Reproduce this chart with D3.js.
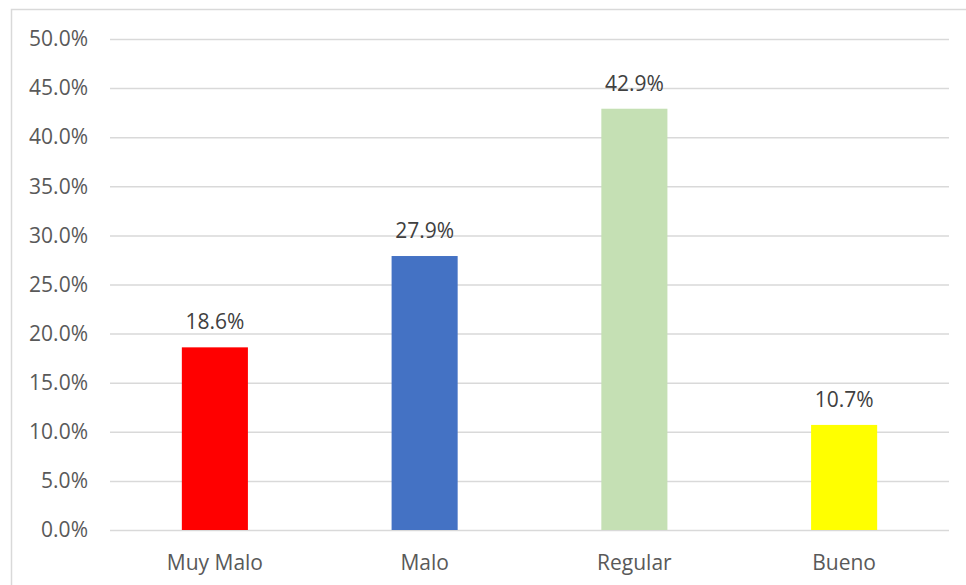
<!DOCTYPE html>
<html><head><meta charset="utf-8">
<script src="https://cdn.jsdelivr.net/npm/d3@7/dist/d3.min.js"></script>
<style>html,body{margin:0;padding:0;background:#fff;}svg{display:block;}</style>
</head><body>
<script>
const categories = ["Muy Malo", "Malo", "Regular", "Bueno"];
const values = [18.6, 27.9, 42.9, 10.7];
const colors = ["#FF0000", "#4472C4", "#C5E0B4", "#FFFF00"];
const yTicks = [0, 5, 10, 15, 20, 25, 30, 35, 40, 45, 50];

const W = 966, H = 585;
const svg = d3.select("body").append("svg").attr("width", W).attr("height", H)
  .style("font-family", "'Open Sans', sans-serif");

svg.append("rect").attr("x", 11.5).attr("y", 9.5).attr("width", 980).attr("height", 600)
  .attr("fill", "none").attr("stroke", "#d9d9d9").attr("stroke-width", 1.5);

const mLeft = 110, mRight = 949, mTop = 39, mBottom = 530;
const x = d3.scaleBand().domain(categories).range([mLeft, mRight]).paddingInner(0.685).paddingOuter(0.3425);
const y = d3.scaleLinear().domain([0, 50]).range([mBottom, mTop]);

const yAxis = d3.axisLeft(y).tickValues(yTicks).tickSize(-(mRight - mLeft)).tickPadding(22)
  .tickFormat(d => d.toFixed(1) + "%");
const gy = svg.append("g").attr("transform", `translate(${mLeft},0)`).call(yAxis);
gy.select(".domain").remove();
gy.selectAll(".tick line").attr("stroke", "#d9d9d9").attr("stroke-width", 1.5);
gy.selectAll(".tick text").attr("fill", "#595959").style("font-size", "21px")
  .style("font-family", "'Open Sans', sans-serif");

const xAxis = d3.axisBottom(x).tickSize(0).tickPadding(25);
const gx = svg.append("g").attr("transform", `translate(0,${mBottom})`).call(xAxis);
gx.select(".domain").remove();
gx.selectAll(".tick text").attr("fill", "#595959").style("font-size", "21px")
  .style("font-family", "'Open Sans', sans-serif");

svg.selectAll("rect.bar").data(values).join("rect").attr("class", "bar")
  .attr("x", (d, i) => x(categories[i]))
  .attr("width", x.bandwidth())
  .attr("y", d => y(d))
  .attr("height", d => y(0) - y(d))
  .attr("fill", (d, i) => colors[i]);

svg.selectAll("text.lbl").data(values).join("text").attr("class", "lbl")
  .attr("x", (d, i) => x(categories[i]) + x.bandwidth() / 2)
  .attr("y", d => y(d) - 18)
  .attr("text-anchor", "middle")
  .attr("fill", "#404040")
  .style("font-size", "21px")
  .text(d => d.toFixed(1) + "%");
</script>
</body></html>
